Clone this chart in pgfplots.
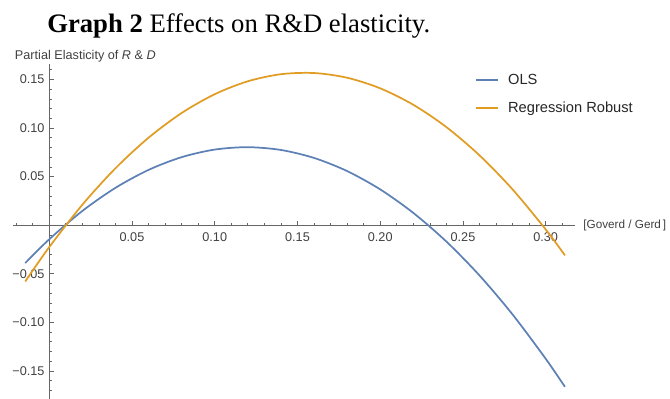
\documentclass[border=0pt]{standalone}
\usepackage{fontspec}
\setmainfont{Liberation Serif}
\newfontfamily\chartfont{Liberation Sans}
\usepackage{pgfplots}
\pgfplotsset{compat=1.18}
\definecolor{olsblue}{HTML}{5E81B5}
\definecolor{robustorange}{HTML}{E19C24}
\definecolor{axisgray}{HTML}{666666}
\begin{document}
\begin{tikzpicture}
\useasboundingbox (0,0) rectangle (502.5pt,299.25pt);
\node[anchor=base west, inner sep=0pt, font=\fontsize{20}{24}\selectfont] at (35.25pt,274.5pt) {\textbf{Graph 2} Effects on R\&D elasticity.};
\begin{axis}[
  at={(9.75pt,0pt)}, anchor=south west,
  scale only axis, width=421.5pt, height=251.25pt,
  xmin=-0.0219, xmax=0.3177, ymin=-0.179, ymax=0.166,
  axis lines=middle,
  axis line style={-, draw=axisgray, line width=0.6pt},
  tick style={draw=axisgray, line width=0.5pt},
  tick align=inside,
  major tick length=3.5pt, minor tick length=2pt,
  xtick={0.05,0.10,0.15,0.20,0.25,0.30},
  xticklabels={0.05,0.10,0.15,0.20,0.25,0.30},
  minor xtick={-0.02,-0.01,0.01,0.02,0.03,0.04,0.06,0.07,0.08,0.09,0.11,0.12,0.13,0.14,0.16,0.17,0.18,0.19,0.21,0.22,0.23,0.24,0.26,0.27,0.28,0.29,0.31},
  ytick={-0.15,-0.10,-0.05,0.05,0.10,0.15},
  yticklabels={−0.15,−0.10,−0.05,0.05,0.10,0.15},
  minor ytick={-0.17,-0.16,-0.14,-0.13,-0.12,-0.11,-0.09,-0.08,-0.07,-0.06,-0.04,-0.03,-0.02,-0.01,0.01,0.02,0.03,0.04,0.06,0.07,0.08,0.09,0.11,0.12,0.13,0.14,0.16},
  tick label style={font=\chartfont\fontsize{9.5}{11}\selectfont, text=black!75},
  xticklabel style={inner sep=0pt, anchor=north, yshift=-5.25pt},
  yticklabel style={inner sep=0pt, anchor=east, xshift=-3.4pt},
  xlabel={[Goverd / Gerd\,]},
  ylabel={Partial Elasticity of \textit{R} \& \textit{D}},
  every axis x label/.style={at={(current axis.right of origin)}, anchor=west, xshift=6pt, inner sep=0pt, font=\chartfont\fontsize{8.8}{10}\selectfont, text=black!75},
  every axis y label/.style={at={(current axis.above origin)}, anchor=west, xshift=-25.9pt, yshift=6pt, inner sep=0pt, font=\chartfont\fontsize{9.5}{11}\selectfont, text=black!75},
  legend image code/.code={\draw[#1, line width=1.6pt] (0pt,0.4pt) -- (16.5pt,0.4pt);},
  legend cell align=left,
  legend style={draw=none, fill=none, inner sep=0pt, outer sep=0pt,
    at={(axis description cs:0.822,0.9713)}, anchor=north west,
    font=\chartfont\fontsize{11}{13}\selectfont, text=black!85,
    row sep=10.5pt, column sep=6.75pt,
    nodes={inner sep=0pt, text height=8pt, text depth=2.5pt}},
]
\addplot[olsblue, line width=1.3pt, smooth] coordinates {
(-0.0145,-0.03898) (0,-0.01451) (0.02,0.014637) (0.04,0.038449) (0.06,0.056925)
(0.08,0.070065) (0.10,0.077869) (0.12,0.080337) (0.14,0.077469) (0.16,0.069265)
(0.18,0.055725) (0.20,0.036849) (0.22,0.012637) (0.24,-0.016911) (0.26,-0.051795)
(0.28,-0.092015) (0.30,-0.137571) (0.3116,-0.166439)};
\addlegendentry{OLS}
\addplot[robustorange, line width=1.3pt, smooth] coordinates {
(-0.0145,-0.057959) (0,-0.022559) (0.02,0.021044) (0.04,0.058591) (0.06,0.090083)
(0.08,0.115518) (0.10,0.134897) (0.12,0.14822) (0.14,0.155487) (0.16,0.156699)
(0.18,0.151854) (0.20,0.140953) (0.22,0.123996) (0.24,0.100983) (0.26,0.071915)
(0.28,0.03679) (0.30,-0.004391) (0.3116,-0.031046)};
\addlegendentry{Regression Robust}
\end{axis}
\end{tikzpicture}
\end{document}
